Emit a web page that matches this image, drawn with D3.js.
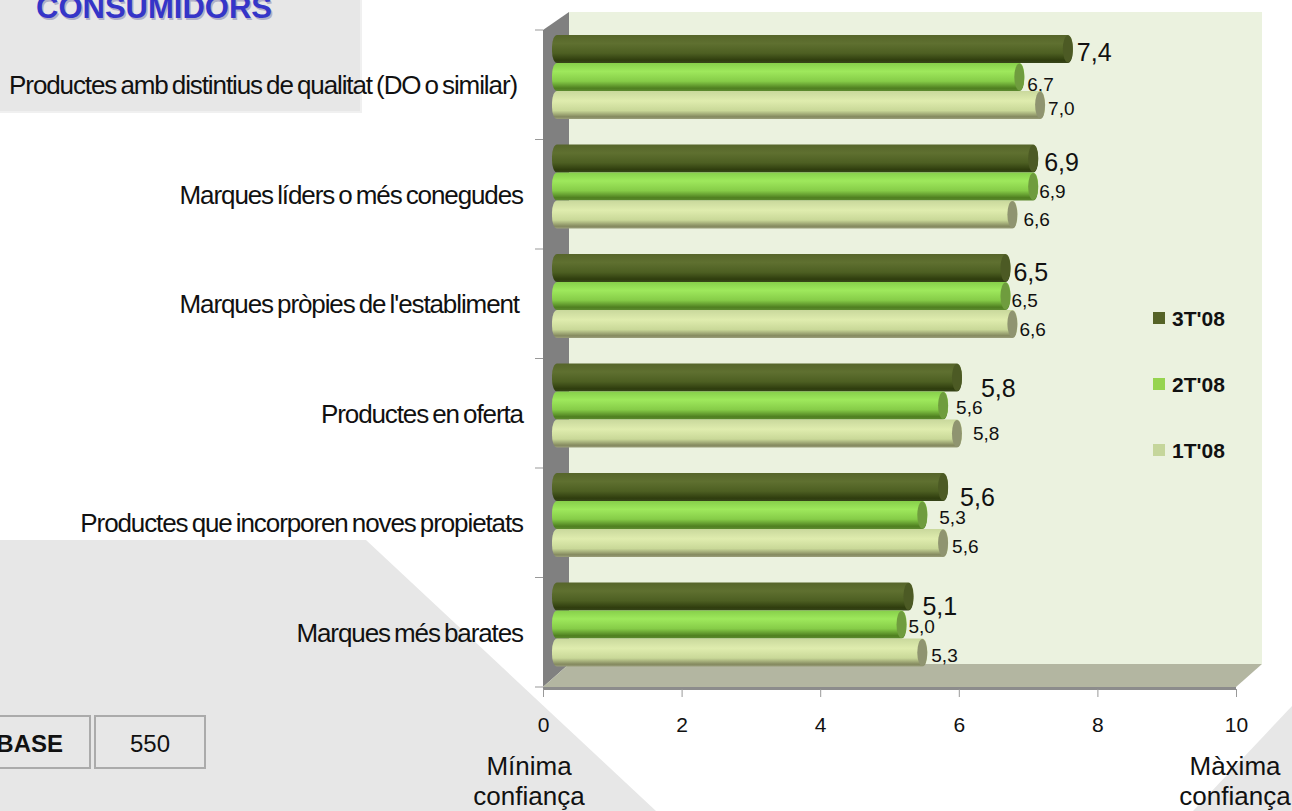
<!DOCTYPE html>
<html>
<head>
<meta charset="utf-8">
<script src="https://cdn.jsdelivr.net/npm/d3@7"></script>
<style>
  html, body { margin: 0; padding: 0; background: #fff; overflow: hidden; }
  svg { display: block; font-family: "Liberation Sans", Arial, sans-serif; }
</style>
</head>
<body>
<div id="chart"></div>
<script>
const categories = [
  "Productes amb distintius de qualitat (DO o similar)",
  "Marques líders o més conegudes",
  "Marques pròpies de l'establiment",
  "Productes en oferta",
  "Productes que incorporen noves propietats",
  "Marques més barates"
];
const seriesNames = ["3T'08", "2T'08", "1T'08"];
const values3T = [7.4, 6.9, 6.5, 5.8, 5.6, 5.1];
const values2T = [6.7, 6.9, 6.5, 5.6, 5.3, 5.0];
const values1T = [7.0, 6.6, 6.6, 5.8, 5.6, 5.3];
const xTicks = [0, 2, 4, 6, 8, 10];

// hand placed labels in the original, offsets from the bar end
const labelDx = [[4, 6, 3, 19, 12, 9], [3, 1, 1, 8, 12, 2], [3, 6, 2, 11, 4, 4]];
const labelDy = [[3, 3.5, 4, 10.5, 10, 9.5], [7, 4.5, 4, 1.5, 2, 1.5], [3, 4.5, 5, 0, 3, 2.5]];
// 3T, 2T, 1T
const legendColors = ["#556327", "#96d44f", "#c5d69b"];
const legendY = [318, 384, 450];
const labelSizes = [25, 19, 19];

const width = 1292, height = 811;
const svg = d3.select("#chart").append("svg").attr("width", width).attr("height", height);
const defs = svg.append("defs");

const gradients = [
  [["0", "#56652a"], ["0.3", "#5f7030"], ["0.65", "#4d5f22"], ["0.9", "#2f3d0e"], ["1", "#37451a"]],
  [["0", "#86cf4a"], ["0.3", "#9ee85c"], ["0.65", "#86cc48"], ["0.9", "#4f7f20"], ["1", "#5d8a30"]],
  [["0", "#c9d89c"], ["0.35", "#dfecae"], ["0.7", "#c9d898"], ["0.92", "#84895f"], ["1", "#9a9e7a"]]
];
gradients.forEach((stops, i) => {
  const g = defs.append("linearGradient").attr("id", "bar" + i)
    .attr("x1", 0).attr("y1", 0).attr("x2", 0).attr("y2", 1);
  stops.forEach(s => g.append("stop").attr("offset", s[0]).attr("stop-color", s[1]));
});
const capColors = ["#4c5a24", "#6f9c3e", "#8f9470"];

// grey slide shapes behind the chart
const bg = svg.append("g");
bg.append("path").attr("d", "M0,540L366,540L656,811L0,811Z").attr("fill", "#e7e7e7");
bg.append("path").attr("d", "M1292,706L1193,811L1292,811Z").attr("fill", "#e7e7e7");
bg.append("rect").attr("x", -4).attr("y", -4).attr("width", 365).attr("height", 116)
  .attr("fill", "#e7e7e7").attr("stroke", "#f0f0f0").attr("stroke-width", 2);

bg.append("text").attr("x", 36).attr("y", 18).attr("font-size", 31).attr("font-weight", "bold")
  .attr("fill", "#b0b0c8").attr("dx", 1.5).attr("dy", 1.5).text("CONSUMIDORS");
bg.append("text").attr("x", 36).attr("y", 18).attr("font-size", 31).attr("font-weight", "bold")
  .attr("fill", "#3535c8").text("CONSUMIDORS");

// base box
bg.append("rect").attr("x", -10).attr("y", 716).attr("width", 100).attr("height", 52)
  .attr("fill", "none").attr("stroke", "#ababab").attr("stroke-width", 2);
bg.append("rect").attr("x", 95).attr("y", 716).attr("width", 110).attr("height", 52)
  .attr("fill", "none").attr("stroke", "#ababab").attr("stroke-width", 2);
bg.append("text").attr("x", 63).attr("y", 752).attr("text-anchor", "end")
  .attr("font-size", 24).attr("font-weight", "bold").attr("fill", "#111").text("BASE");
bg.append("text").attr("x", 150).attr("y", 752).attr("text-anchor", "middle")
  .attr("font-size", 24).attr("fill", "#111").text("550");

// scales
const x = d3.scaleLinear().domain([0, 10]).range([543, 1236]);
const y = d3.scaleBand().domain(categories).range([30, 687]);
const inner = d3.scaleBand().domain(seriesNames).range([5, 89]);

// 3d box
const depthX = 26, depthY = 23;
const plotTop = y.range()[0], plotBottom = y.range()[1];
const chart = svg.append("g");
chart.append("rect").attr("x", x(0) + depthX).attr("y", plotTop - 18)
  .attr("width", x(10) - x(0)).attr("height", plotBottom - plotTop + 18 - depthY)
  .attr("fill", "#ebf2df");
chart.append("path")
  .attr("d", `M${x(0)},${plotTop}L${x(0) + depthX},${plotTop - 18}L${x(0) + depthX},${plotBottom - depthY}L${x(0)},${plotBottom}Z`)
  .attr("fill", "#808080");
chart.append("path")
  .attr("d", `M${x(0)},${plotBottom}L${x(0) + depthX},${plotBottom - depthY}L${x(10) + depthX},${plotBottom - depthY}L${x(10)},${plotBottom}Z`)
  .attr("fill", "#b3b6a1");
chart.append("rect").attr("x", x(0)).attr("y", plotBottom).attr("width", x(10) - x(0)).attr("height", 3)
  .attr("fill", "#8c8c8c");

// y ticks
chart.selectAll(".ytick").data(d3.range(categories.length + 1)).enter().append("line")
  .attr("x1", x(0) - 8).attr("x2", x(0))
  .attr("y1", i => plotTop + i * y.step()).attr("y2", i => plotTop + i * y.step())
  .attr("stroke", "#999");

// x axis
const xAxis = d3.axisBottom(x).tickValues(xTicks).tickSize(8).tickPadding(20).tickFormat(d3.format("d"));
const axisG = chart.append("g").attr("transform", `translate(0,${plotBottom + 2})`).call(xAxis);
axisG.select(".domain").remove();
axisG.selectAll("line").attr("stroke", "#999");
axisG.selectAll("text").attr("font-size", 21).attr("font-family", "Liberation Sans").attr("fill", "#111");

// category labels
const labelEnd = [517, 523, 519, 523, 523, 523];
chart.selectAll(".cat").data(categories).enter().append("text")
  .attr("class", "cat")
  .attr("x", (d, i) => labelEnd[i])
  .attr("y", d => y(d) + 55)
  .attr("dy", "0.35em")
  .attr("text-anchor", "end")
  .attr("font-size", 26)
  .attr("letter-spacing", -1.1)
  .attr("word-spacing", -2)
  .attr("fill", "#111")
  .text(d => d);

// bars
const allValues = [values3T, values2T, values1T];
const barStart = x(0) + 9, capOffset = 8;
const unit = x(1) - x(0);
seriesNames.forEach((name, s) => {
  const h = inner.bandwidth();
  const g = chart.append("g").attr("class", "series");
  const bars = g.selectAll("g").data(allValues[s]).enter().append("g");
  bars.append("rect")
    .attr("x", barStart)
    .attr("y", (d, i) => y(categories[i]) + inner(name))
    .attr("width", d => d * unit + capOffset)
    .attr("height", h)
    .attr("rx", 5).attr("ry", 12)
    .attr("fill", `url(#bar${s})`);
  bars.append("ellipse")
    .attr("cx", d => barStart + d * unit + capOffset - 5)
    .attr("cy", (d, i) => y(categories[i]) + inner(name) + h / 2)
    .attr("rx", 5).attr("ry", h / 2 - 0.5)
    .attr("fill", capColors[s]);
  g.selectAll("text").data(allValues[s]).enter().append("text")
    .attr("x", (d, i) => barStart + d * unit + capOffset + labelDx[s][i])
    .attr("y", (d, i) => y(categories[i]) + inner(name) + h / 2 + labelDy[s][i])
    .attr("dy", "0.35em")
    .attr("font-size", labelSizes[s])
    .attr("fill", "#111")
    .text(d => d.toFixed(1).replace(".", ","));
});

// legend
const legend = svg.selectAll(".legend").data(seriesNames).enter().append("g").attr("class", "legend")
  .attr("transform", (d, i) => `translate(1153,${legendY[i]})`);
legend.append("rect").attr("y", -6).attr("width", 12).attr("height", 12)
  .attr("fill", (d, i) => legendColors[i]);
legend.append("text").attr("x", 19).attr("dy", "0.36em")
  .attr("font-size", 21).attr("font-weight", "bold").attr("fill", "#111").text(d => d);

// axis end captions
const captions = [[529, "Mínima"], [529, "confiança"], [1235, "Màxima"], [1235, "confiança"]];
svg.selectAll(".caption").data(captions).enter().append("text")
  .attr("x", d => d[0])
  .attr("y", (d, i) => i % 2 ? 805 : 775)
  .attr("text-anchor", "middle")
  .attr("font-size", 26)
  .attr("fill", "#111")
  .text(d => d[1]);
</script>
</body>
</html>
